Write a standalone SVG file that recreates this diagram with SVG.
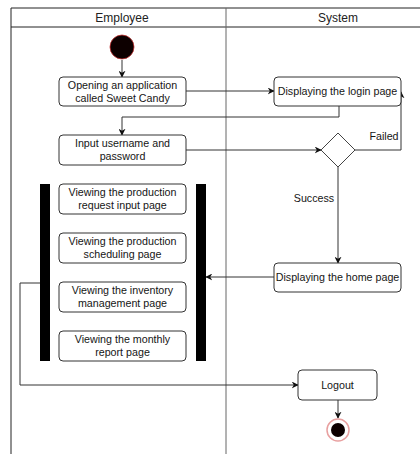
<svg xmlns="http://www.w3.org/2000/svg" width="420" height="454" viewBox="0 0 420 454">
  <defs>
    <marker id="arrow" viewBox="0 0 10 10" refX="9" refY="5" markerWidth="7" markerHeight="7" orient="auto" markerUnits="userSpaceOnUse">
      <path d="M0,0 L10,5 L0,10 L3,5 Z" fill="#111"/>
    </marker>
    <style>
      .lane { fill: none; stroke: #222; stroke-width: 1; }
      .divider { stroke: #666; stroke-width: 1; }
      .box { fill: #fff; stroke: #333; stroke-width: 1; }
      .bar { fill: #000; }
      .txt { font-family: "Liberation Sans", Arial, sans-serif; font-size: 10.7px; fill: #151515; text-anchor: middle; }
      .hdr { font-family: "Liberation Sans", Arial, sans-serif; font-size: 12px; fill: #222; text-anchor: middle; }
      .edge { fill: none; stroke: #333; stroke-width: 1; }
      .arrowed { marker-end: url(#arrow); }
    </style>
  </defs>
  <rect width="420" height="454" fill="#fff"/>

  <!-- swimlanes; the pool runs on past the right and bottom edges -->
  <g id="lanes">
    <polyline class="lane" points="11,460 11,8 430,8"/>
    <line class="lane" x1="11" y1="27" x2="430" y2="27"/>
    <line class="divider" x1="226" y1="8" x2="226" y2="454"/>
    <text class="hdr" x="122" y="22">Employee</text>
    <text class="hdr" x="338" y="22">System</text>
  </g>

  <!-- connectors -->
  <g id="connectors">
    <line class="edge arrowed" x1="122" y1="60" x2="122" y2="77"/>
    <line class="edge arrowed" x1="186" y1="91" x2="274" y2="91"/>
    <polyline class="edge arrowed" points="339,106 339,117 122,117 122,135"/>
    <line class="edge arrowed" x1="186" y1="150" x2="321" y2="150"/>
    <polyline class="edge arrowed" points="355,150 401,150 401,92"/>
    <line class="edge arrowed" x1="338" y1="167" x2="338" y2="263"/>
    <line class="edge arrowed" x1="274" y1="277" x2="206" y2="277"/>
    <polyline class="edge arrowed" points="40,283 20,283 20,385 298,385"/>
    <line class="edge arrowed" x1="338" y1="400" x2="338" y2="418"/>
    <text class="txt" x="384" y="140">Failed</text>
    <text class="txt" x="314" y="202">Success</text>
  </g>

  <g id="start">
    <circle cx="122" cy="47" r="12" fill="#0d0000" stroke="#c03030" stroke-width="0.8"/>
  </g>

  <g id="open-app">
    <rect class="box" x="59" y="77" width="127" height="29" rx="4"/>
    <text class="txt" x="122.5" y="89">Opening an application</text>
    <text class="txt" x="122.5" y="101.5">called Sweet Candy</text>
  </g>

  <g id="login-page">
    <rect class="box" x="274" y="77" width="127" height="29" rx="4"/>
    <text class="txt" x="337.5" y="95">Displaying the login page</text>
  </g>

  <g id="input-credentials">
    <rect class="box" x="59" y="135" width="127" height="30" rx="4"/>
    <text class="txt" x="122.5" y="147">Input username and</text>
    <text class="txt" x="122.5" y="160">password</text>
  </g>

  <g id="decision">
    <polygon points="338,133 355,150 338,167 321,150" fill="#fff" stroke="#444" stroke-width="1"/>
  </g>

  <g id="home-page">
    <rect class="box" x="274" y="263" width="127" height="29" rx="4"/>
    <text class="txt" x="337.5" y="281">Displaying the home page</text>
  </g>

  <g id="fork-left">
    <rect class="bar" x="40" y="184" width="10" height="177"/>
  </g>
  <g id="fork-right">
    <rect class="bar" x="196" y="184" width="10" height="177"/>
  </g>

  <g id="view-request">
    <rect class="box" x="59" y="184" width="127" height="30" rx="4"/>
    <text class="txt" x="122.5" y="196">Viewing the production</text>
    <text class="txt" x="122.5" y="209">request input page</text>
  </g>

  <g id="view-scheduling">
    <rect class="box" x="59" y="233" width="127" height="30" rx="4"/>
    <text class="txt" x="122.5" y="245">Viewing the production</text>
    <text class="txt" x="122.5" y="258">scheduling page</text>
  </g>

  <g id="view-inventory">
    <rect class="box" x="59" y="282" width="127" height="30" rx="4"/>
    <text class="txt" x="122.5" y="294">Viewing the inventory</text>
    <text class="txt" x="122.5" y="307">management page</text>
  </g>

  <g id="view-report">
    <rect class="box" x="59" y="331" width="127" height="30" rx="4"/>
    <text class="txt" x="122.5" y="343">Viewing the monthly</text>
    <text class="txt" x="122.5" y="356">report page</text>
  </g>

  <g id="logout">
    <rect class="box" x="298" y="370" width="79" height="30" rx="4"/>
    <text class="txt" x="337.5" y="389">Logout</text>
  </g>

  <g id="end">
    <circle cx="338" cy="430" r="11" fill="#fff" stroke="#e8a0a0" stroke-width="1.5"/>
    <circle cx="338" cy="430" r="7" fill="#0d0000"/>
  </g>
</svg>
